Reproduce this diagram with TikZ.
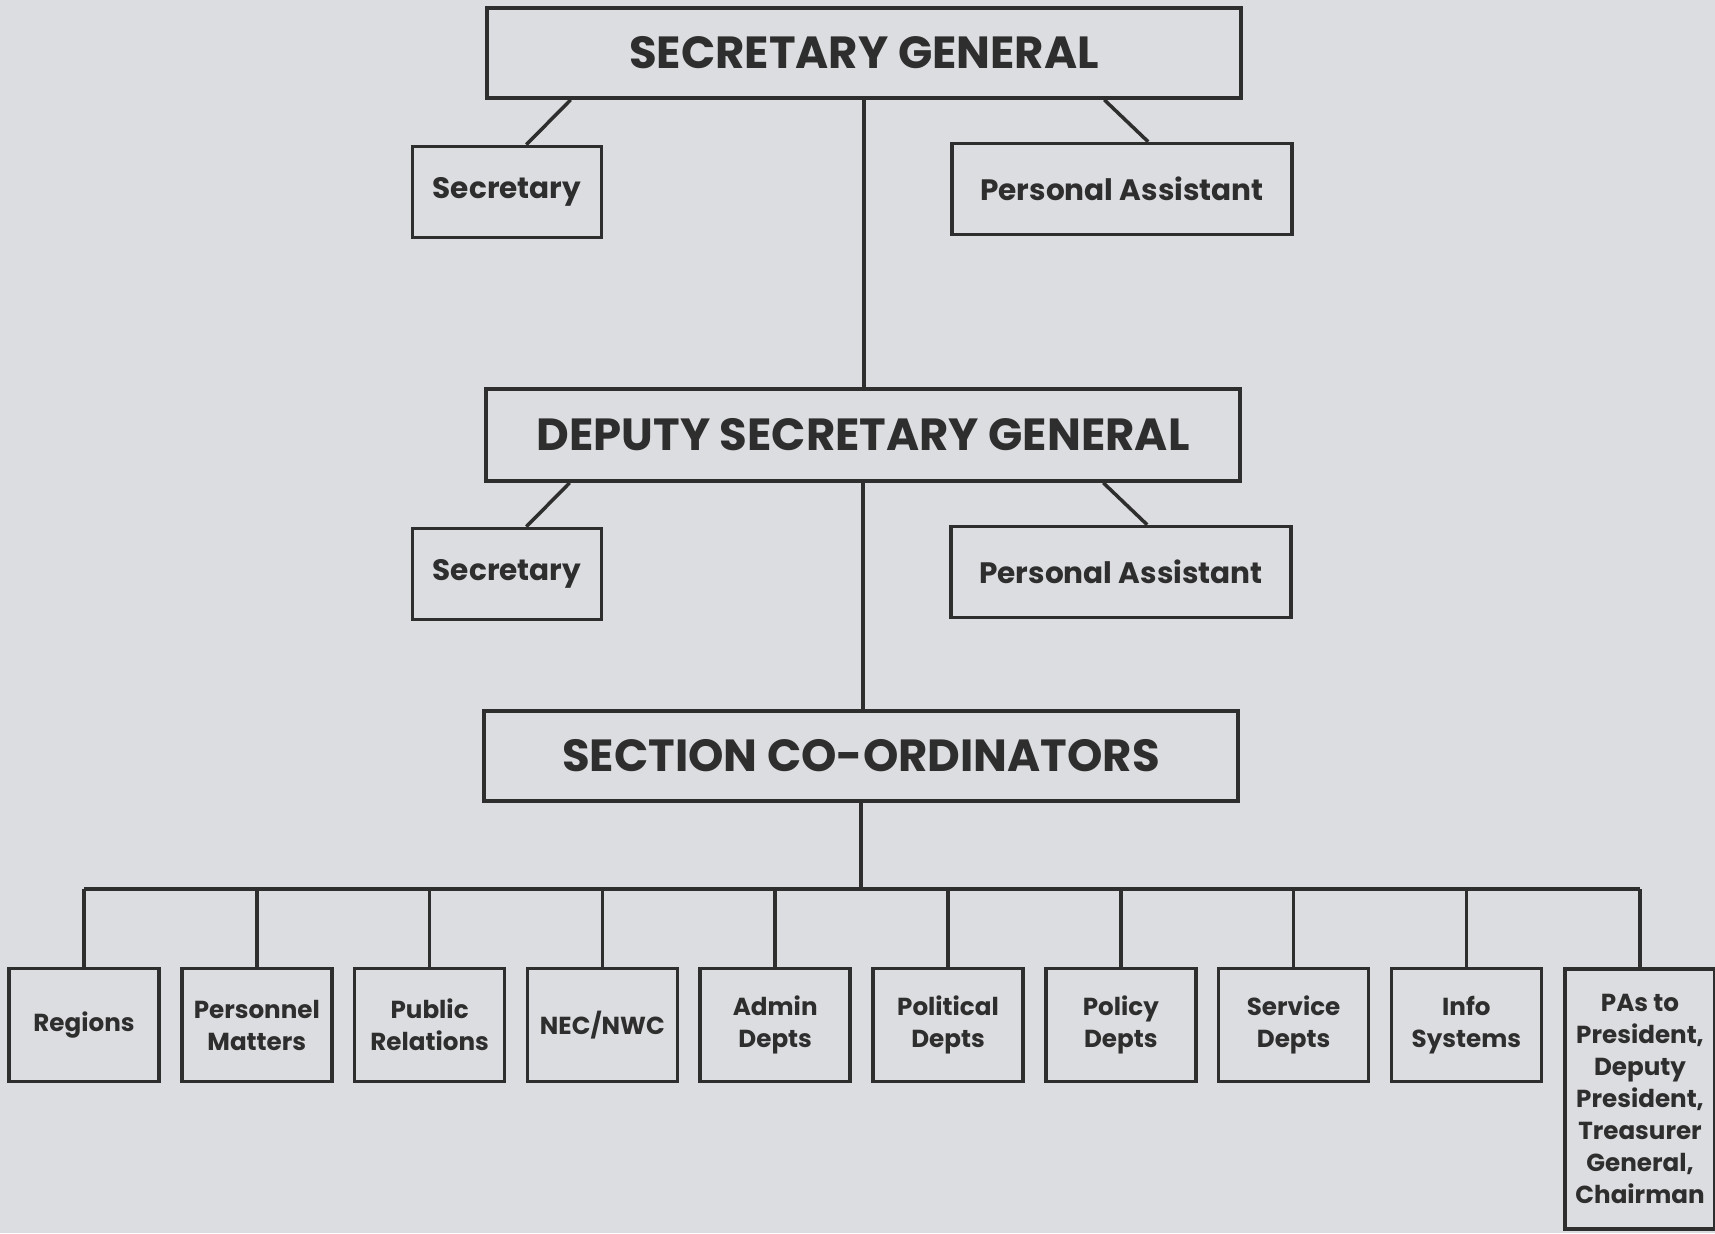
\documentclass[tikz,border=0pt]{standalone}
\usepackage{fontspec}
\setmainfont{Poppins}
\definecolor{paper}{HTML}{DCDDE0}
\definecolor{ink}{HTML}{2E2E2E}
\usetikzlibrary{calc}

\begin{document}
\begin{tikzpicture}[x=0.01cm, y=-0.01cm,
      head/.style={draw=ink, line width=1pt, minimum width=7.54cm, minimum height=0.9cm,
                   inner sep=0pt, text=ink, font=\bfseries\fontsize{12.8}{15}\selectfont},
      aide/.style={draw=ink, line width=1pt, minimum height=0.91cm,
                   inner sep=0pt, text=ink, font=\bfseries\fontsize{8.4}{10}\selectfont},
      unit/.style={draw=ink, line width=1pt, minimum width=1.5cm, minimum height=1.13cm,
                   inner sep=0pt, align=center, text=ink, font=\bfseries\fontsize{7}{9.1}\selectfont},
      link/.style={ink, line width=1pt}
    ]
      \fill[paper] (0,0) rectangle (1715,1233);
      \useasboundingbox (0,0) rectangle (1715,1233);

      % top levels
      \node[head] (sg) at (864,53) {SECRETARY GENERAL};
      \node[aide, minimum width=1.89cm] (sec1) at (507,192) {Secretary};
      \node[aide, minimum width=3.4cm] (pa1) at (1122,189) {Personal Assistant};
      \node[head, minimum height=0.92cm] (dsg) at (863,435) {DEPUTY SECRETARY GENERAL};
      \node[aide, minimum width=1.89cm] (sec2) at (507,574) {Secretary};
      \node[aide, minimum width=3.4cm] (pa2) at (1121,572) {Personal Assistant};
      \node[head] (sc) at (861,756) {SECTION CO-ORDINATORS};

      % sections
      \foreach \lbl [count=\i from 0] in {Regions, Personnel\\Matters, Public\\Relations,
          NEC/NWC, Admin\\Depts, Political\\Depts, Policy\\Depts, Service\\Depts, Info\\Systems}
        \node[unit] (u\i) at (84+172.8*\i,1025) {\lbl};
      \node[unit, minimum height=2.6cm] (u9) at (1640,1099)
        {PAs to\\President,\\Deputy\\President,\\Treasurer\\General,\\Chairman};

      \draw[link] (sg.south) -- (sg.south |- dsg.north);
      \draw[link] (dsg.south) -- (dsg.south |- sc.north);
      \draw[link] ($(sg.south west)!0.113!(sg.south east)$) -- ($(sec1.north west)!0.6!(sec1.north east)$);
      \draw[link] ($(sg.south west)!0.817!(sg.south east)$) -- ($(pa1.north west)!0.576!(pa1.north east)$);
      \draw[link] ($(dsg.south west)!0.113!(dsg.south east)$) -- ($(sec2.north west)!0.6!(sec2.north east)$);
      \draw[link] ($(dsg.south west)!0.817!(dsg.south east)$) -- ($(pa2.north west)!0.576!(pa2.north east)$);

      \coordinate (bus) at (861,889);
      \draw[link] (sc.south) -- (sc.south |- bus);
      \draw[link] (u0.north |- bus) -- (u9.north |- bus);
      \foreach \i in {0,...,9}
        \draw[link] (u\i.north |- bus) -- (u\i.north);
    \end{tikzpicture}
\end{document}
